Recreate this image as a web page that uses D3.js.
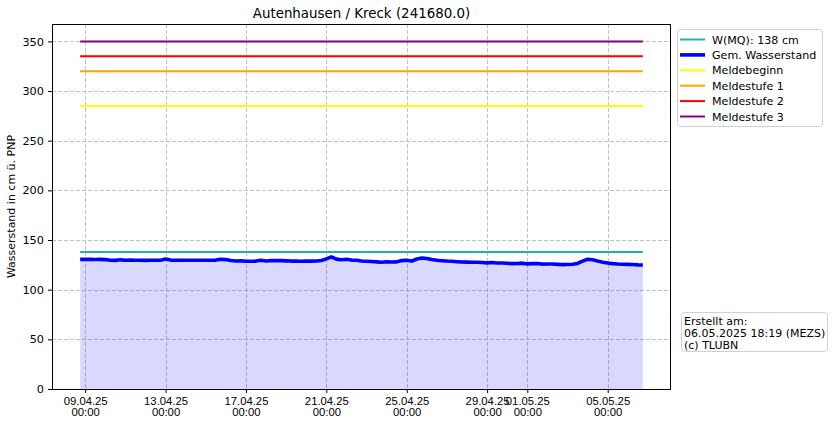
<!DOCTYPE html>
<html><head><meta charset="utf-8">
<script src="https://cdn.jsdelivr.net/npm/d3@7/dist/d3.min.js"></script>
<style>
body{margin:0;background:#fff;}
svg{display:block;font-family:"DejaVu Sans",sans-serif;}
</style></head><body>
<svg id="chart" width="834" height="426"></svg>
<script>
// ---- data ----
const title = "Autenhausen / Kreck (241680.0)";
const yLabel = "Wasserstand in cm ü. PNP";
const startTime = "2025-04-08T18:00:00";
const stepHours = 6;
const waterLevel = [
130.5,130.5,130.5,130.4,130.5,130.3,129.6,129.5,130.2,129.6,
129.8,129.6,129.7,129.5,129.6,129.7,129.6,130.8,129.8,129.6,
129.7,129.6,129.6,129.7,129.6,129.6,129.7,129.8,130.6,130.3,
129.4,128.9,129.0,128.7,128.7,128.8,129.6,128.9,129.3,129.4,
129.3,129.0,128.8,128.9,128.7,128.8,128.8,128.9,129.3,131.0,
133.0,130.8,130.2,130.6,129.8,129.7,128.9,128.7,128.4,128.0,
127.6,128.1,127.8,128.0,129.3,129.6,128.8,130.9,131.8,131.4,
130.4,129.6,129.2,128.8,128.6,128.2,127.9,127.7,127.6,127.6,
127.4,127.0,127.3,126.9,126.9,126.6,126.2,126.3,126.7,126.0,
126.2,126.3,125.7,125.9,125.8,125.5,125.2,125.4,125.6,126.4,
128.8,130.6,130.2,128.8,127.6,126.8,126.2,125.8,125.6,125.5,
125.4,125.0,124.8
];
const thresholdNames = ["W(MQ): 138 cm","Meldebeginn","Meldestufe 1","Meldestufe 2","Meldestufe 3"];
const thresholdValues = [138, 285, 320, 335, 350];
const thresholdColors = ["#20b2aa","#ffff00","#ffa500","#ff0000","#800080"];
const legendNames = ["W(MQ): 138 cm","Gem. Wasserstand","Meldebeginn","Meldestufe 1","Meldestufe 2","Meldestufe 3"];
const legendColors = ["#20b2aa","#0000ff","#ffff00","#ffa500","#ff0000","#800080"];
const xTickDates = ["2025-04-09","2025-04-13","2025-04-17","2025-04-21","2025-04-25","2025-04-29","2025-05-01","2025-05-05"];
const yTicks = [0,50,100,150,200,250,300,350];
const infoLines = ["Erstellt am:","06.05.2025 18:19 (MEZS)","(c) TLUBN"];

// ---- build ----
const t0 = new Date(startTime);
const series = waterLevel.map((v,i)=>({t:new Date(t0.getTime()+i*stepHours*3600e3), v}));
const tStart = series[0].t, tEnd = series[series.length-1].t;
const span = tEnd - tStart;

const M = {left:52, right:671, top:24, bottom:389};
const svg = d3.select("#chart");
const x = d3.scaleTime().domain([new Date(+tStart - span*0.05), new Date(+tEnd + span*0.05)]).range([M.left, M.right]);
const y = d3.scaleLinear().domain([0, 367.5]).range([M.bottom, M.top]);

// grid
const g = svg.append("g");
const xTicks = xTickDates.map(s=>new Date(s+"T00:00:00"));
g.selectAll(".gx").data(xTicks).enter().append("line")
  .attr("x1",d=>Math.round(x(d))+0.5).attr("x2",d=>Math.round(x(d))+0.5)
  .attr("y1",M.top).attr("y2",M.bottom)
  .attr("stroke","#c2c2c2").attr("stroke-width",1).attr("stroke-dasharray","4,2");
g.selectAll(".gy").data(yTicks).enter().append("line")
  .attr("y1",d=>Math.round(y(d))+0.5).attr("y2",d=>Math.round(y(d))+0.5)
  .attr("x1",M.left).attr("x2",M.right)
  .attr("stroke","#c2c2c2").attr("stroke-width",1).attr("stroke-dasharray","4,2");

// fill
svg.append("path").datum(series)
  .attr("d", d3.area().x(d=>x(d.t)).y0(y(0)).y1(d=>y(d.v)))
  .attr("fill","rgba(0,0,255,0.15)");

// thresholds
thresholdValues.forEach((v,i)=>{
  svg.append("line").attr("x1",x(tStart)).attr("x2",x(tEnd))
    .attr("y1",y(v)).attr("y2",y(v))
    .attr("stroke",thresholdColors[i]).attr("stroke-width",2);
});

// water level line
svg.append("path").datum(series)
  .attr("d", d3.line().x(d=>x(d.t)).y(d=>y(d.v)))
  .attr("fill","none").attr("stroke","#0000ff").attr("stroke-width",3.6).attr("stroke-linejoin","round");

// axes
const fmtD = d3.timeFormat("%d.%m.%y");
const xAxis = svg.append("g").attr("transform",`translate(0,${M.bottom})`)
  .call(d3.axisBottom(x).tickValues(xTicks).tickSize(4).tickFormat(""));
xAxis.selectAll(".tick").each(function(d){
  const t = d3.select(this).append("text").attr("fill","#000").attr("font-size","11.3px").attr("text-anchor","middle");
  t.append("tspan").attr("x",0).attr("y",16).text(fmtD(d));
  t.append("tspan").attr("x",0).attr("y",27).text("00:00");
});
const yAxis = svg.append("g").attr("transform",`translate(${M.left},0)`)
  .call(d3.axisLeft(y).tickValues(yTicks).tickSize(4).tickPadding(4));
yAxis.selectAll("text").attr("font-size","11.3px").attr("fill","#000").attr("font-family","DejaVu Sans");
[xAxis,yAxis].forEach(a=>{a.select(".domain").remove(); a.selectAll("line").attr("stroke","#000");});

// spines
svg.append("rect").attr("x",M.left+0.5).attr("y",M.top+0.5)
  .attr("width",M.right-M.left-1).attr("height",M.bottom-M.top)
  .attr("fill","none").attr("stroke","#000").attr("stroke-width",1);

// title + ylabel
svg.append("text").attr("x",(M.left+M.right)/2).attr("y",18).attr("text-anchor","middle")
  .attr("font-size","13.4px").text(title);
svg.append("text").attr("transform",`translate(15,${(M.top+M.bottom)/2}) rotate(-90)`)
  .attr("text-anchor","middle").attr("font-size","11px").text(yLabel);

// legend
const lg = svg.append("g");
lg.append("rect").attr("x",677.5).attr("y",29.5).attr("width",145).attr("height",97).attr("rx",3)
  .attr("fill","#fff").attr("stroke","#d0d0d0");
legendNames.forEach((n,i)=>{
  const yy = 39.5 + i*15.4;
  lg.append("line").attr("x1",680).attr("x2",705).attr("y1",yy).attr("y2",yy)
    .attr("stroke",legendColors[i]).attr("stroke-width", i===1?3.6:2);
  lg.append("text").attr("x",712).attr("y",yy+4).attr("font-size","11.1px").text(n);
});

// info box
const ib = svg.append("g");
ib.append("rect").attr("x",681.5).attr("y",312.5).attr("width",146).attr("height",39).attr("rx",3)
  .attr("fill","#fff").attr("stroke","#d0d0d0");
infoLines.forEach((s,i)=>{
  ib.append("text").attr("x",684).attr("y",324.5+i*12).attr("font-size","11px").text(s);
});
</script>
</body></html>
